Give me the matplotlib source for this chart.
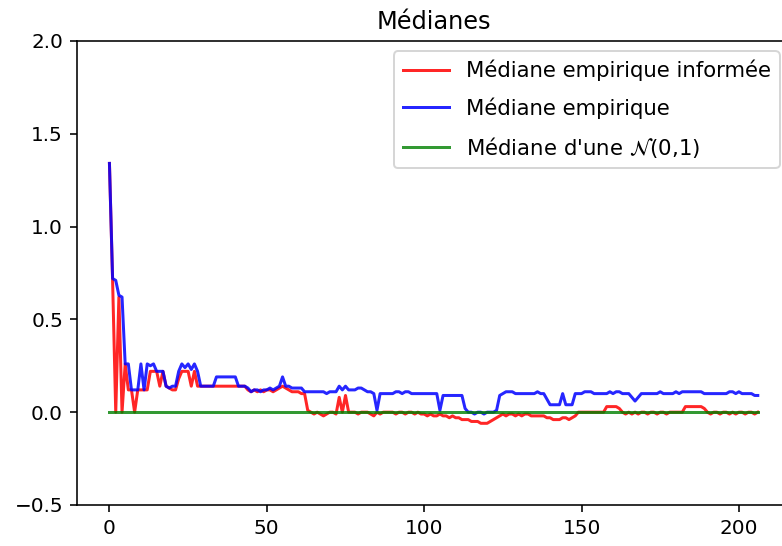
import numpy as np
import matplotlib.pyplot as plt

# médiane empirique (bleu)
med_emp = [
    1.34, 0.72, 0.71, 0.63, 0.62, 0.26, 0.26, 0.12, 0.12, 0.12,
    0.26, 0.12, 0.26, 0.25, 0.26, 0.22, 0.22, 0.22, 0.14, 0.13,
    0.14, 0.14, 0.22, 0.26, 0.24, 0.26, 0.23, 0.26, 0.22, 0.14,
    0.14, 0.14, 0.14, 0.14, 0.19, 0.19, 0.19, 0.19, 0.19, 0.19,
    0.19, 0.14, 0.14, 0.14, 0.13, 0.11, 0.12, 0.12, 0.11, 0.12,
    0.12, 0.13, 0.12, 0.13, 0.14, 0.19, 0.14, 0.14, 0.13, 0.13,
    0.13, 0.13, 0.11, 0.11, 0.11, 0.11, 0.11, 0.11, 0.11, 0.10,
    0.11, 0.11, 0.11, 0.14, 0.12, 0.14, 0.12, 0.12, 0.12, 0.13,
    0.13, 0.12, 0.11, 0.11, 0.10, 0.01, 0.10, 0.10, 0.10, 0.10,
    0.10, 0.11, 0.11, 0.10, 0.11, 0.11, 0.10, 0.10, 0.10, 0.10,
    0.10, 0.10, 0.10, 0.10, 0.10, 0.01, 0.09, 0.09, 0.09, 0.09,
    0.09, 0.09, 0.09, 0.02, 0.00, 0.00, -0.01, 0.00, 0.00, -0.01,
    0.00, 0.00, 0.00, 0.01, 0.09, 0.10, 0.11, 0.11, 0.11, 0.10,
    0.10, 0.10, 0.10, 0.10, 0.10, 0.10, 0.11, 0.10, 0.10, 0.07,
    0.04, 0.04, 0.04, 0.04, 0.10, 0.04, 0.04, 0.04, 0.10, 0.10,
    0.10, 0.11, 0.11, 0.11, 0.10, 0.10, 0.10, 0.10, 0.10, 0.11,
    0.10, 0.11, 0.11, 0.10, 0.10, 0.10, 0.08, 0.06, 0.08, 0.10,
    0.10, 0.10, 0.10, 0.10, 0.10, 0.11, 0.10, 0.10, 0.10, 0.10,
    0.11, 0.10, 0.11, 0.11, 0.11, 0.11, 0.11, 0.11, 0.11, 0.10,
    0.10, 0.10, 0.10, 0.10, 0.10, 0.10, 0.10, 0.11, 0.11, 0.10,
    0.11, 0.10, 0.10, 0.10, 0.10, 0.09, 0.09,
]

# médiane empirique informée (rouge)
med_inf = [
    1.34, 0.71, 0.00, 0.62, 0.00, 0.26, 0.12, 0.12, 0.00, 0.12,
    0.12, 0.12, 0.12, 0.22, 0.22, 0.22, 0.14, 0.22, 0.14, 0.13,
    0.12, 0.12, 0.18, 0.22, 0.22, 0.22, 0.14, 0.22, 0.14, 0.14,
    0.14, 0.14, 0.14, 0.14, 0.14, 0.14, 0.14, 0.14, 0.14, 0.14,
    0.14, 0.14, 0.14, 0.14, 0.12, 0.11, 0.12, 0.11, 0.12, 0.11,
    0.12, 0.12, 0.11, 0.12, 0.13, 0.14, 0.13, 0.12, 0.11, 0.11,
    0.11, 0.10, 0.10, 0.01, 0.00, -0.01, 0.00, -0.01, -0.02, -0.01,
    0.00, 0.00, -0.01, 0.08, 0.00, 0.09, 0.00, 0.00, 0.00, -0.01,
    0.00, 0.00, 0.00, -0.01, -0.02, 0.00, -0.01, 0.00, 0.00, 0.00,
    0.00, -0.01, 0.00, 0.00, -0.01, 0.00, 0.00, -0.01, 0.00, -0.01,
    -0.01, -0.02, -0.01, -0.02, -0.02, -0.01, -0.02, -0.02, -0.03, -0.02,
    -0.03, -0.03, -0.04, -0.04, -0.04, -0.05, -0.05, -0.05, -0.06, -0.06,
    -0.06, -0.05, -0.04, -0.03, -0.02, -0.01, -0.02, -0.01, -0.01, -0.02,
    -0.01, -0.02, -0.01, -0.01, -0.02, -0.02, -0.02, -0.02, -0.02, -0.03,
    -0.03, -0.04, -0.04, -0.04, -0.03, -0.03, -0.04, -0.03, -0.02, 0.00,
    0.00, 0.00, 0.00, 0.00, 0.00, 0.00, 0.00, 0.00, 0.03, 0.03,
    0.03, 0.03, 0.02, 0.00, -0.01, 0.00, -0.01, 0.00, -0.01, 0.00,
    0.00, -0.01, 0.00, 0.00, -0.01, 0.00, 0.00, -0.01, 0.00, 0.00,
    0.00, 0.00, 0.00, 0.03, 0.03, 0.03, 0.03, 0.03, 0.03, 0.02,
    0.00, -0.01, 0.00, 0.00, -0.01, 0.00, 0.00, -0.01, 0.00, -0.01,
    0.00, 0.00, -0.01, 0.00, 0.00, -0.01, 0.00,
]

med_theo = 0.0  # médiane d'une N(0,1)

n = len(med_emp)
x = np.arange(n)

fig = plt.figure(figsize=(782 / 144, 546 / 144), dpi=144)
ax = fig.add_axes([0.0985, 0.0751, 0.912, 0.85])

ax.plot(x, med_inf, 'r', alpha=0.85, label='Médiane empirique informée')
ax.plot(x, med_emp, 'b', alpha=0.85, label='Médiane empirique')
ax.plot(x, np.full(n, med_theo), 'g', alpha=0.8,
        label="Médiane d'une $\\mathcal{N}$(0,1)")

ax.set_ylim(-0.5, 2)
ax.set_title('Médianes')
ax.legend(loc='upper right', fontsize=10.6, handlelength=2.2,
          labelspacing=0.75)

fig.savefig('out.png', dpi=144)
